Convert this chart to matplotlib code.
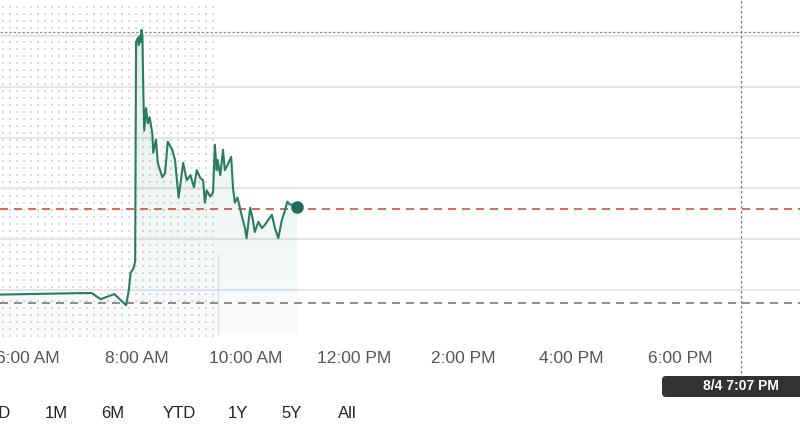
import matplotlib.pyplot as plt
import matplotlib.patches as mpatches
import matplotlib.transforms as mtransforms
import numpy as np

# intraday prices (time of day, price)
times = ["5:00", "7:00", "7:10", "7:20", "7:35", "7:48", "7:51", "7:53", "7:56", "7:58",
         "7:59", "8:01", "8:02", "8:03", "8:04", "8:05", "8:06", "8:07", "8:08", "8:10",
         "8:12", "8:14", "8:17", "8:18", "8:21", "8:23", "8:28", "8:31", "8:34", "8:39",
         "8:42", "8:46", "8:51", "8:55", "8:59", "9:03", "9:06", "9:10", "9:13", "9:15",
         "9:17", "9:21", "9:24", "9:26", "9:28", "9:29", "9:32", "9:35", "9:37", "9:40",
         "9:44", "9:46", "9:48", "9:51", "9:56", "9:59", "10:01", "10:05", "10:08", "10:10",
         "10:14", "10:18", "10:21", "10:25", "10:29", "10:32", "10:36", "10:40", "10:43", "10:46",
         "10:49", "10:52", "10:57"]
prices = [1.95, 1.97, 1.97, 1.91, 1.96, 1.85, 2.00, 2.17, 2.21, 2.28,
          4.44, 4.48, 4.41, 4.50, 4.44, 4.56, 4.50, 3.97, 3.57, 3.79,
          3.64, 3.70, 3.54, 3.35, 3.48, 3.25, 3.11, 3.15, 3.46, 3.38,
          3.28, 2.91, 3.25, 3.08, 3.13, 3.01, 3.18, 3.10, 3.08, 2.86,
          2.98, 2.92, 2.96, 3.43, 3.18, 3.28, 3.13, 3.38, 3.18, 3.23,
          3.31, 3.01, 2.86, 2.91, 2.72, 2.62, 2.51, 2.81, 2.69, 2.57,
          2.67, 2.61, 2.64, 2.69, 2.74, 2.62, 2.51, 2.69, 2.77, 2.87,
          2.84, 2.84, 2.82]

last_price_line = 2.80
prev_close = 1.87
day_high = 4.54
grid_levels = [2.0, 2.5, 3.0, 3.5, 4.0, 4.5]
market_open = "9:30"
crosshair = "19:07"
crosshair_label = "8/4 7:07 PM"
tick_hours = [6, 8, 10, 12, 14, 16, 18]
tick_labels = ["6:00 AM", "8:00 AM", "10:00 AM", "12:00 PM", "2:00 PM", "4:00 PM", "6:00 PM"]
ranges = ["5D", "1M", "6M", "YTD", "1Y", "5Y", "All"]


def to_hours(s):
    h, m = s.split(":")
    return int(h) + int(m) / 60


t = np.array([to_hours(s) for s in times])
p = np.array(prices)

plt.rcParams['font.family'] = ['Liberation Sans', 'DejaVu Sans']

fig = plt.figure(figsize=(8, 4.45), dpi=100)
ax = fig.add_axes([0, 105 / 445, 1, 340 / 445])
ax.set_xlim(5.48, 20.2)
ax.set_ylim(1.508, 4.854)
for s in ax.spines.values():
    s.set_visible(False)
ax.set_yticks([])

bottom = 1.56

# premarket dotted background (regular 7 px grid)
x_lo, x_hi = ax.get_xlim()
open_frac = (to_hours(market_open) - x_lo) / (x_hi - x_lo)
gx = np.arange(3, open_frac * 800 - 2, 7) / 800
gy = np.arange(4, 337, 7) / 340
GX, GY = np.meshgrid(gx, gy)
ax.scatter(GX.ravel(), GY.ravel(), s=1.2, marker='s', color='#d9dadd', linewidths=0,
           transform=ax.transAxes, zorder=0)
ax.vlines(to_hours(market_open), bottom, 2.35, color='#dfe3e8', lw=1, zorder=1)

for g in grid_levels:
    ax.axhline(g, color='#e3e5ea', lw=1.5, zorder=1)

# gradient fill under the line
poly = ax.fill_between(t, p, bottom, facecolor='none', edgecolor='none')
grad = np.zeros((100, 2, 4))
grad[:, :, 0] = 42 / 255
grad[:, :, 1] = 125 / 255
grad[:, :, 2] = 100 / 255
grad[:, :, 3] = np.linspace(0.13, 0.03, 100)[:, None]
img = ax.imshow(grad, extent=[t[0], t[-1], bottom, 4.6], origin='upper',
                aspect='auto', zorder=2)
img.set_clip_path(poly.get_paths()[0], transform=ax.transData)

ax.axhline(day_high, color='#8a8a8a', lw=0.9, linestyle=(0, (2, 1.5)), zorder=3)
ax.axhline(last_price_line, color='#cf6a5e', lw=1.4, linestyle=(0, (4.1, 3.1)), zorder=3)
ax.axhline(prev_close, color='#8c8c8c', lw=1.4, linestyle=(0, (4.1, 3.1)), zorder=3)

ax.plot(t, p, color='#2b7b63', lw=1.5, zorder=4)
ax.plot(t[-1], p[-1], 'o', color='#1e6e57', markersize=8, zorder=5)

ax.axvline(to_hours(crosshair), ymin=-0.112, ymax=1, color='#777777', lw=0.9,
           linestyle=(0, (2, 2)), clip_on=False, zorder=3)

ax.set_xticks(tick_hours)
ax.set_xticklabels(tick_labels)
ax.tick_params(axis='x', length=0, pad=8, labelsize=12.5, labelcolor='#555555')

# crosshair date label
box = mpatches.FancyBboxPatch((662 / 800, 48 / 445), 0.2, 21 / 445,
                              boxstyle='round,pad=0,rounding_size=0.005',
                              mutation_aspect=800 / 445, transform=fig.transFigure,
                              facecolor='#333333', edgecolor='none', zorder=2)
fig.add_artist(box)
trans = mtransforms.blended_transform_factory(ax.transData, fig.transFigure)
fig.text(to_hours(crosshair), 58.5 / 445, crosshair_label, transform=trans, ha='center',
         va='center', color='white', fontsize=10, fontweight='bold', zorder=3)

# range buttons
btn_x = [0, 56, 113, 179, 238, 292, 347]
for lbl, bx in zip(ranges, btn_x):
    fig.text(bx / 800, 1 - 414 / 445, lbl, ha='center', va='center', fontsize=12,
             color='#222222')

fig.savefig('out.png', dpi=100)
